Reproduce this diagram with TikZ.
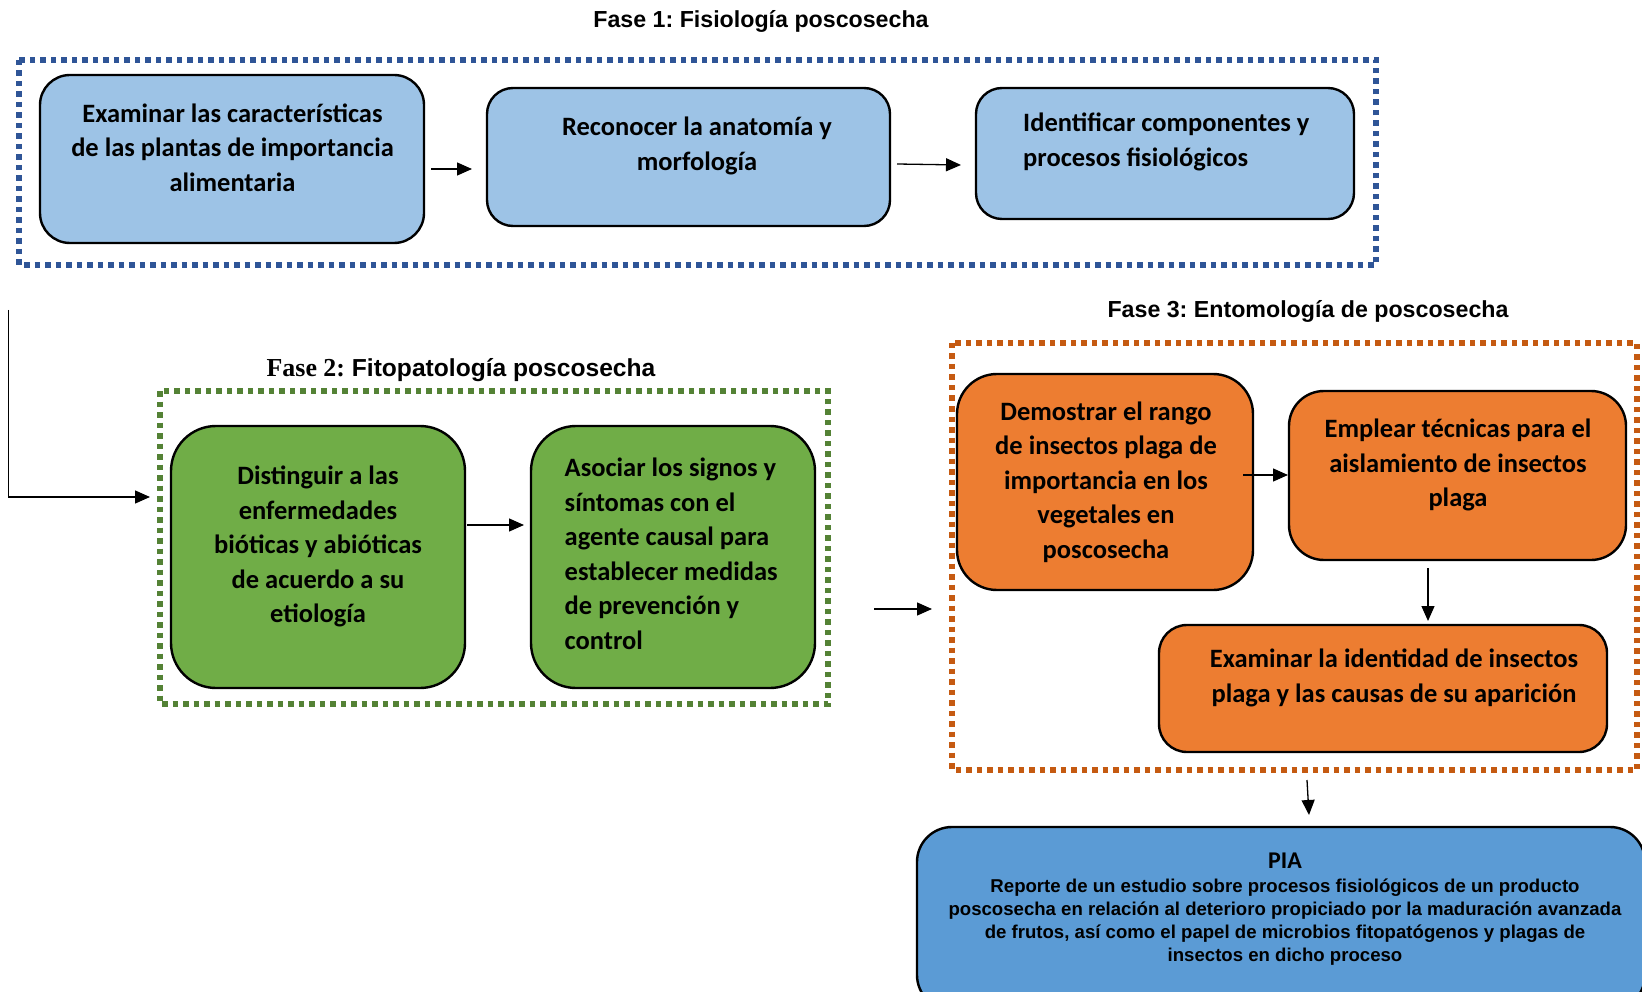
\documentclass[tikz,border=0pt]{standalone}
\usepackage{fontspec}
\setmainfont{Liberation Sans}
\newfontfamily\boxfont{Carlito}
\newfontfamily\arialfont{Liberation Sans}
\newfontfamily\timesfont{Liberation Serif}
\usetikzlibrary{arrows.meta}
\frenchspacing
\definecolor{lblue}{HTML}{9DC3E6}
\definecolor{fblue}{HTML}{2F5597}
\definecolor{gfill}{HTML}{70AD47}
\definecolor{gframe}{HTML}{548235}
\definecolor{ofill}{HTML}{ED7D31}
\definecolor{oframe}{HTML}{C55A11}
\definecolor{pfill}{HTML}{5B9BD5}
\tikzset{
  stepbox/.style={draw=black, line width=2.4pt, inner sep=0pt},
  frame/.style={line width=5.5pt, dash pattern=on 5.5pt off 5pt},
  btext/.style={font={\fontsize{26.5}{34.5}\selectfont\boxfont\bfseries}, align=center, inner sep=0pt, text=black},
  ltext/.style={font={\fontsize{26.5}{34.5}\selectfont\boxfont\bfseries}, align=left, inner sep=0pt, anchor=west, text=black},
  ttl/.style={font={\fontsize{23.2}{26}\selectfont\arialfont\bfseries}, inner sep=0pt},
  conn/.style={line width=1.3pt, -{Triangle[length=15pt,width=13pt]}},
}
\begin{document}
\begin{tikzpicture}[x=1pt,y=-1pt]
\useasboundingbox[fill=white] (0,0) rectangle (1642,992);

% titles
\node[ttl] (t1) at (761,21) {Fase 1: Fisiología poscosecha};
\node[ttl, font={\fontsize{24.6}{26}\selectfont\arialfont\bfseries}] (t2) at (461,370) {{\timesfont\bfseries\fontsize{25.9}{26}\selectfont Fase 2:} Fitopatología poscosecha};
\node[ttl] (t3) at (1308,311) {Fase 3: Entomología de poscosecha};

% frames
\draw[frame, fblue] (19,60) rectangle (1376,265);
\draw[frame, gframe] (160,391) rectangle (828,704);
\draw[frame, oframe] (952,343) rectangle (1637,770);

% phase 1 boxes
\node[stepbox, fill=lblue, rounded corners=30pt, minimum width=384pt, minimum height=168pt] (A1) at (232,159) {};
\node[stepbox, fill=lblue, rounded corners=26pt, minimum width=403pt, minimum height=138pt] (A2) at (688.5,157) {};
\node[stepbox, fill=lblue, rounded corners=26pt, minimum width=378pt, minimum height=131pt] (A3) at (1165,153.5) {};
\node[btext] (A1t) at (232.5,147.7) {Examinar las características\\de las plantas de importancia\\alimentaria};
\node[btext] (A2t) at (697,146) {Reconocer la anatomía y\\morfología};
\node[ltext] (A3t) at (1023,142) {Identificar componentes y\\procesos fisiológicos};

% phase 2 boxes
\node[stepbox, fill=gfill, rounded corners=45pt, minimum width=294pt, minimum height=262pt] (B1) at (318,557) {};
\node[stepbox, fill=gfill, rounded corners=45pt, minimum width=284pt, minimum height=262pt] (B2) at (673,557) {};
\node[btext] (B1t) at (318,546.6) {Distinguir a las\\enfermedades\\bióticas y abióticas\\de acuerdo a su\\etiología};
\node[ltext] (B2t) at (564.5,554) {Asociar los signos y\\síntomas con el\\agente causal para\\establecer medidas\\de prevención y\\control};

% phase 3 boxes
\node[stepbox, fill=ofill, rounded corners=40pt, minimum width=296pt, minimum height=216pt] (C1) at (1105,482) {};
\node[stepbox, fill=ofill, rounded corners=35pt, minimum width=337pt, minimum height=169pt] (C2) at (1457.5,475.5) {};
\node[stepbox, fill=ofill, rounded corners=28pt, minimum width=448pt, minimum height=127pt] (C3) at (1383,688.5) {};
\node[btext] (C1t) at (1106,482) {Demostrar el rango\\de insectos plaga de\\importancia en los\\vegetales en\\poscosecha};
\node[btext] (C2t) at (1458,465) {Emplear técnicas para el\\aislamiento de insectos\\plaga};
\node[btext] (C3t) at (1394,678) {Examinar la identidad de insectos\\plaga y las causas de su aparición};

% PIA
\node[stepbox, fill=pfill, rounded corners=35pt, minimum width=728pt, minimum height=183pt] (P) at (1281,918.5) {};
\node[font={\fontsize{24}{26}\selectfont\boxfont\bfseries}, inner sep=0pt] (Pt) at (1285,861) {PIA};
\node[font={\fontsize{18.6}{23}\selectfont\arialfont\bfseries}, align=center, inner sep=0pt] (Pb) at (1285,922.6) {Reporte de un estudio sobre procesos fisiológicos de un producto\\poscosecha en relación al deterioro propiciado por la maduración avanzada\\de frutos, así como el papel de microbios fitopatógenos y plagas de\\insectos en dicho proceso};

% connector coordinates
\coordinate (a1s) at (431,169);  \coordinate (a1e) at (472,169);
\coordinate (a2s) at (897,164);  \coordinate (a2e) at (961,165);
\coordinate (ls) at (8.4,310);   \coordinate (lc) at (8.4,497); \coordinate (le) at (150,497);
\coordinate (b1s) at (467,525);  \coordinate (b1e) at (524,525);
\coordinate (gos) at (874,609);  \coordinate (goe) at (932,609);
\coordinate (c1s) at (1243,475); \coordinate (c1e) at (1288,475);
\coordinate (c2s) at (1428,568); \coordinate (c2e) at (1428,621);
\coordinate (ops) at (1307,780); \coordinate (ope) at (1309,815);

\draw[conn] (a1s) -- (a1e);
\draw[conn] (a2s) -- (a2e);
\draw[conn] (ls) -- (lc) -- (le);
\draw[conn] (b1s) -- (b1e);
\draw[conn] (gos) -- (goe);
\draw[conn] (c1s) -- (c1e);
\draw[conn] (c2s) -- (c2e);
\draw[conn] (ops) -- (ope);
\end{tikzpicture}
\end{document}
